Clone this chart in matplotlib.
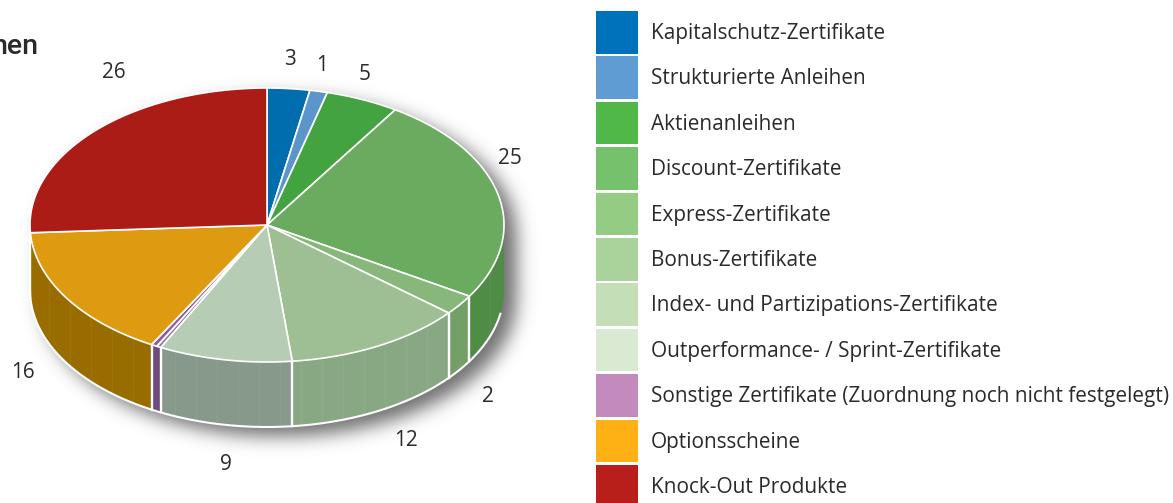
import numpy as np
import matplotlib
matplotlib.use('Agg')
import matplotlib.pyplot as plt

plt.rcParams['font.family'] = ['Open Sans', 'DejaVu Sans']

CATEGORIES = ['Kapitalschutz-Zertifikate', 'Strukturierte Anleihen', 'Aktienanleihen',
              'Discount-Zertifikate', 'Express-Zertifikate', 'Bonus-Zertifikate',
              'Index- und Partizipations-Zertifikate', 'Outperformance- / Sprint-Zertifikate',
              'Sonstige Zertifikate (Zuordnung noch nicht festgelegt)', 'Optionsscheine',
              'Knock-Out Produkte']
VALUES = [2.9, 1.2, 5.0, 24.6, 2.4, 12.2, 9.1, 0.3, 0.4, 16.0, 25.9]
LABELS = ['3', '1', '5', '25', '2', '12', '9', '', '', '16', '26']
LABEL_POS = [(290, 59), (322, 65), (365, 74), (510, 158), (488, 396), (406, 440),
             (226, 464), None, None, (23, 373), (114, 72)]
LEGEND_COLORS = ['#0072BC', '#5E9CD3', '#50B848', '#76C26C', '#94CC84', '#AAD29B',
                 '#C4DFB8', '#D9E9D2', '#C38BBD', '#FDB115', '#B81F1B']
TOP_COLORS = ['#006DAE', '#5B96CB', '#44A341', '#6AAB5F', '#87B77B', '#9EBF93',
              '#B7CCB4', '#9A78A8', '#8E5F9B', '#DE9B12', '#AB1C17']
SIDE_COLORS = ['#00507F', '#44709A', '#327A30', '#4F8C45', '#73A067', '#88A883',
               '#86998A', '#6E4A7E', '#6E4A7E', '#996C00', '#7E1411']

CX, CY, RX, RY, DEPTH = 267, 225, 237, 137, 65


def arc_points(start, end):
    t = np.radians(np.linspace(start, end, max(int(end - start) * 2, 2)))
    return CX + RX * np.sin(t), CY - RY * np.cos(t)


def draw_shadow(ax):
    yy, xx = np.mgrid[0:503, 0:1173]
    sx, sy = CX + 12, CY + 9
    inside = ((xx - sx) / RX) ** 2 + ((yy - sy) / RY) ** 2 <= 1
    inside |= ((xx - sx) / RX) ** 2 + ((yy - sy - DEPTH) / RY) ** 2 <= 1
    inside |= (np.abs(xx - sx) <= RX) & (yy >= sy) & (yy <= sy + DEPTH)
    blur = inside.astype(float)
    kernel = np.exp(-np.arange(-30, 31) ** 2 / (2 * 9.0 ** 2))
    kernel /= kernel.sum()
    blur = np.apply_along_axis(lambda r: np.convolve(r, kernel, mode='same'), 0, blur)
    blur = np.apply_along_axis(lambda r: np.convolve(r, kernel, mode='same'), 1, blur)
    rgba = np.zeros((503, 1173, 4))
    rgba[..., :3] = 0.3
    rgba[..., 3] = blur * 0.8
    ax.imshow(rgba, extent=(0, 1173, 503, 0), aspect='auto', zorder=0)


def draw_pie(ax):
    edges = np.concatenate([[0], np.cumsum(VALUES)]) / sum(VALUES) * 360

    # Seitenwand, nur vorderer Teil sichtbar
    for i in range(len(VALUES)):
        start, end = max(edges[i], 90), min(edges[i + 1], 270)
        if start >= end:
            continue
        x, y = arc_points(start, end)
        ax.fill(np.r_[x, x[::-1]], np.r_[y, y[::-1] + DEPTH], color=SIDE_COLORS[i],
                lw=0, zorder=2)
        # schwache senkrechte Streifen
        for fx in np.arange(x.min() // 21 * 21 + 7, x.max(), 21):
            if x.min() + 3 < fx < x.max() - 3:
                fy = CY + RY * np.sqrt(1 - ((fx - CX) / RX) ** 2)
                ax.plot([fx, fx], [fy, fy + DEPTH], color='white', alpha=0.05, lw=1, zorder=3)
        # die zwei violetten Segmente laufen ohne Trennlinie ineinander
        if 90 < start < 270 and i != 8:
            ex, ey = arc_points(start, start + 1)
            ax.plot([ex[0], ex[0]], [ey[0], ey[0] + DEPTH], color='white', lw=1.7, zorder=4)

    x, y = arc_points(100, 270)
    ax.plot(x, y + DEPTH, color='white', lw=1.5, zorder=4)

    # Deckfläche
    for i in range(len(VALUES)):
        x, y = arc_points(edges[i], edges[i + 1])
        ax.fill(np.r_[CX, x], np.r_[CY, y], facecolor=TOP_COLORS[i], edgecolor='white',
                lw=1.2, joinstyle='round', zorder=5)


def draw_legend(ax):
    for i, name in enumerate(CATEGORIES):
        top = 11 + i * 45.4
        ax.add_patch(plt.Rectangle((596, top), 42, 42.5, color=LEGEND_COLORS[i], lw=0, zorder=2))
        ax.text(651, top + 22.5, name, fontsize=14.95, color='#2b2a29', va='center', ha='left')


fig = plt.figure(figsize=(11.73, 5.03), dpi=100)
ax = fig.add_axes([0, 0, 1, 1])
draw_shadow(ax)
draw_pie(ax)
draw_legend(ax)

for label, pos in zip(LABELS, LABEL_POS):
    if pos:
        ax.text(pos[0], pos[1], label, fontsize=14.95, color='#2b2a29', ha='center', va='center')

ax.text(38, 46, 'hen', fontsize=20.5, family='Roboto', fontweight='medium', color='#2b2a29',
        ha='right', va='center')

ax.set_xlim(0, 1173)
ax.set_ylim(503, 0)
ax.axis('off')
fig.savefig('out.png', dpi=100)
